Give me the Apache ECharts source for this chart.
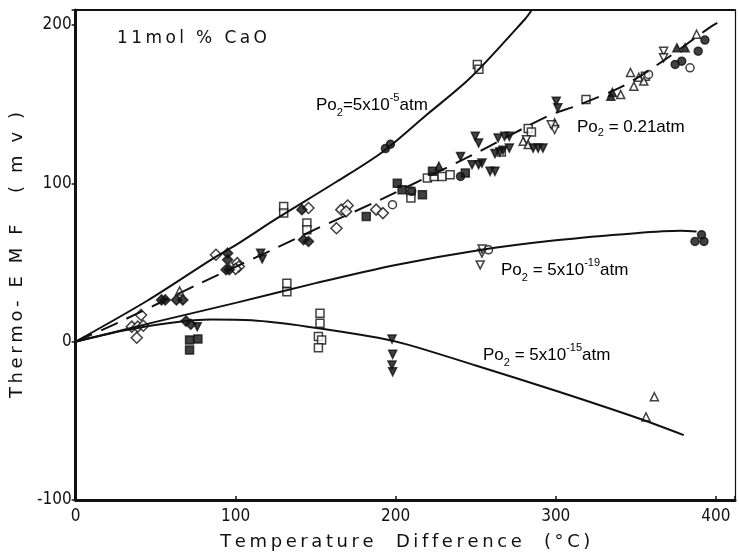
<!DOCTYPE html>
<html>
<head>
<meta charset="UTF-8">
<title>Thermo-EMF</title>
<script src="https://cdn.jsdelivr.net/npm/echarts@6/dist/echarts.min.js"></script>
<style>
  body { margin: 0; background: #fff; }
  #chart { width: 739px; height: 558px; }
</style>
</head>
<body>
<div id="chart"></div>
<script>
// fitted curves
var curve5e5 = [[0,0],[45,26],[85,52],[100,61],[126,78],[163,101],[192,120],[219,143],[247,167],[281,204],[285,209.5]];
var curve021 = [[0,0],[28,12.7],[77,36.5],[122,57.6],[152,72],[189,89],[250,119],[296,143],[313,149],[343,162],[368,178],[397,199],[404,203]];
var curve5e19 = [[0,0],[50,12.5],[100,24.5],[150,37],[200,48.5],[250,57.5],[300,64],[350,68.5],[378,70],[388,69.6]];
var curve5e15 = [[0,0],[30,7],[60,12],[85,14],[110,13.5],[145,9.5],[189,2.5],[208,-2],[250,-15],[300,-31],[352,-48.5],[380,-59]];

// measured points, one list per marker
var openSquare = [[130,85.4],[130,81.2],[144.5,74.9],[144.5,70.7],[251,175],[252,172],[132,36.9],[132,31.6],
  [152.7,17.9],[152.7,11.6],[151.7,3.2],[153.7,1.1],[151.7,-3.8],[209.5,94.9],[209.5,90.7],[219.8,103.4],
  [224,104.4],[229,104.4],[234,105.5],[266,119.8],[282.8,134.6],[284.8,132.5],[318.9,152.9],[356,167.7]];
var filledSquare = [[201,100],[204,96],[216.7,92.8],[181.6,79.1],[223,107.6],[243.5,106.5],[71.2,1.1],[76.4,1.7],[71.2,-5.3]];
var openDiamond = [[40.9,16.9],[35.1,9.5],[38.8,9.5],[42.3,10.1],[38.2,2.5],[87.7,54.9],[145.5,84.4],[101,49.6],
  [102,47.5],[100,46],[163,71.7],[166,83.4],[170,86],[169,82.3],[187.8,83.4],[192,81.2]];
var filledDiamond = [[69,13],[72,11],[141.4,83.4],[142.4,64.4],[145.5,63.3],[53.7,26.4],[56,26.4],[63,26.4],[67,26.4],
  [95,55.9],[95,51.7],[94,45.4],[96,45.4]];
var openCircle = [[198,86.5],[383.9,173],[358,168.8],[258,58]];
var filledCircle = [[193.6,122],[196.7,124.7],[210,95],[240.5,104.4],[374.6,175.1],[378.7,177.2],[389,183.5],
  [393.2,190.5],[391.1,67.5],[387,63.3],[392.6,63.3]];
var openTriangle = [[65,32],[361.6,-34.8],[356.4,-47.5],[279.7,126.6],[282.8,124.5],[299.3,138.2],[340.6,156.1],
  [346.7,170],[348.8,161.4],[351.9,167],[355,164.6],[388,194.2]];
var filledTriangle = [[227,110.8],[334.4,155],[335.4,157.4],[375.7,185.6],[380.8,185.6]];
var openInvTriangle = [[281.7,127.6],[299.3,134],[297.2,137],[253.9,55.9],[252.8,48.5],[367.4,183.5],[367.4,179.3],[254,58.5]];
var filledInvTriangle = [[76,9.5],[115.6,55.9],[116.6,52.3],[197.7,1.7],[198.1,-8],[197.7,-14.8],[198.1,-19],
  [240.5,117],[247.7,111.8],[251.8,111.8],[253.9,112.8],[249.7,129.7],[251.8,125.5],[259,107.6],[262,107.6],
  [262,118.8],[265,119.8],[267,120.9],[264,128.7],[268,129.7],[271,129.7],[271,122.3],[285.9,122.3],
  [289,122.3],[292,122.3],[300.3,151.9],[301.3,147.7]];

var xTicks = [0, 100, 200, 300, 400];
var yTicks = [-100, 0, 100, 200];

var chart = echarts.init(document.getElementById('chart'));
var ink = '#111';
var tickFont = { fontFamily: 'DejaVu Sans Condensed', fontSize: 17, color: ink };

// spread letters a little, like the typed lettering of the original
function spaced(s) { return s.split('').join('\u2009'); }

function lineSeries(data, dashed) {
  return {
    type: 'line', data: data, smooth: 0.3, showSymbol: false, silent: true,
    lineStyle: { color: ink, width: 2, type: dashed ? [18, 10] : 'solid' }
  };
}
function markSeries(data, symbol, filled, size, rotate) {
  return {
    type: 'scatter', data: data, symbol: symbol, symbolSize: size, symbolRotate: rotate || 0,
    itemStyle: { color: filled ? ink : '#fff', borderColor: ink, borderWidth: 1.5 }
  };
}

var rich = {
  b: { fontFamily: 'Liberation Sans', fontSize: 17, color: ink, lineHeight: 22 },
  s: { fontFamily: 'Liberation Sans', fontSize: 11, color: ink, verticalAlign: 'bottom', lineHeight: 18 },
  p: { fontFamily: 'Liberation Sans', fontSize: 11, color: ink, verticalAlign: 'top', lineHeight: 26 }
};
function note(x, y, text) {
  return { type: 'text', left: x, top: y, style: { text: text, rich: rich } };
}

chart.setOption({
  animation: false,
  backgroundColor: '#fff',
  grid: { left: 70, right: 4, top: 10, bottom: 58 },
  xAxis: [{
    type: 'value', min: 0, max: 412, interval: 100,
    name: spaced('Temperature  Difference  (°C)'), nameLocation: 'middle', nameGap: 33,
    nameTextStyle: { fontFamily: 'DejaVu Sans', fontSize: 18, color: ink },
    axisLine: { onZero: false, lineStyle: { color: ink, width: 3 } },
    axisTick: { inside: true, length: 4, lineStyle: { color: ink, width: 1.5 } },
    axisLabel: Object.assign({ margin: 8, formatter: function (v) { return xTicks.indexOf(v) >= 0 ? v : ''; } }, tickFont),
    splitLine: { show: false }
  }, {
    type: 'value', min: 0, max: 412, position: 'top',
    axisLine: { show: true, onZero: false, lineStyle: { color: ink, width: 2 } },
    axisTick: { show: false }, axisLabel: { show: false }, splitLine: { show: false }
  }],
  yAxis: [{
    type: 'value', min: -100, max: 209.5, interval: 100,
    name: spaced('Thermo- E M F   ( m v )'), nameLocation: 'middle', nameGap: 31,
    nameTextStyle: { fontFamily: 'DejaVu Sans', fontSize: 18, color: ink },
    axisLine: { onZero: false, lineStyle: { color: ink, width: 3 } },
    axisTick: { length: 4, lineStyle: { color: ink, width: 1.5 } },
    axisLabel: Object.assign({ margin: 4, formatter: function (v) { return yTicks.indexOf(v) >= 0 ? v : ''; } }, tickFont),
    splitLine: { show: false }
  }, {
    type: 'value', min: -100, max: 209.5, position: 'right',
    axisLine: { show: true, onZero: false, lineStyle: { color: ink, width: 1.2 } },
    axisTick: { show: false }, axisLabel: { show: false }, splitLine: { show: false }
  }],
  series: [
    lineSeries(curve5e5, false),
    lineSeries(curve021, true),
    lineSeries(curve5e19, false),
    lineSeries(curve5e15, false),
    markSeries(openSquare, 'rect', false, 8),
    markSeries(filledSquare, 'rect', true, 8),
    markSeries(openDiamond, 'diamond', false, 11),
    markSeries(filledDiamond, 'diamond', true, 10),
    markSeries(openCircle, 'circle', false, 8),
    markSeries(filledCircle, 'circle', true, 8),
    markSeries(openTriangle, 'triangle', false, 8),
    markSeries(filledTriangle, 'triangle', true, 8),
    markSeries(openInvTriangle, 'triangle', false, 8, 180),
    markSeries(filledInvTriangle, 'triangle', true, 8, 180)
  ],
  graphic: [
    { type: 'text', left: 117, top: 30, style: { text: spaced('11mol % CaO'), fontFamily: 'DejaVu Sans', fontSize: 17, fill: ink } },
    note(316, 92, '{b|Po}{s|2}{b|=5x10}{p|-5}{b|atm}'),
    note(577, 119, '{b|Po}{s|2}{b| = 0.21atm}'),
    note(501, 257, '{b|Po}{s|2}{b| = 5x10}{p|-19}{b|atm}'),
    note(483, 342, '{b|Po}{s|2}{b| = 5x10}{p|-15}{b|atm}')
  ]
});
</script>
</body>
</html>
